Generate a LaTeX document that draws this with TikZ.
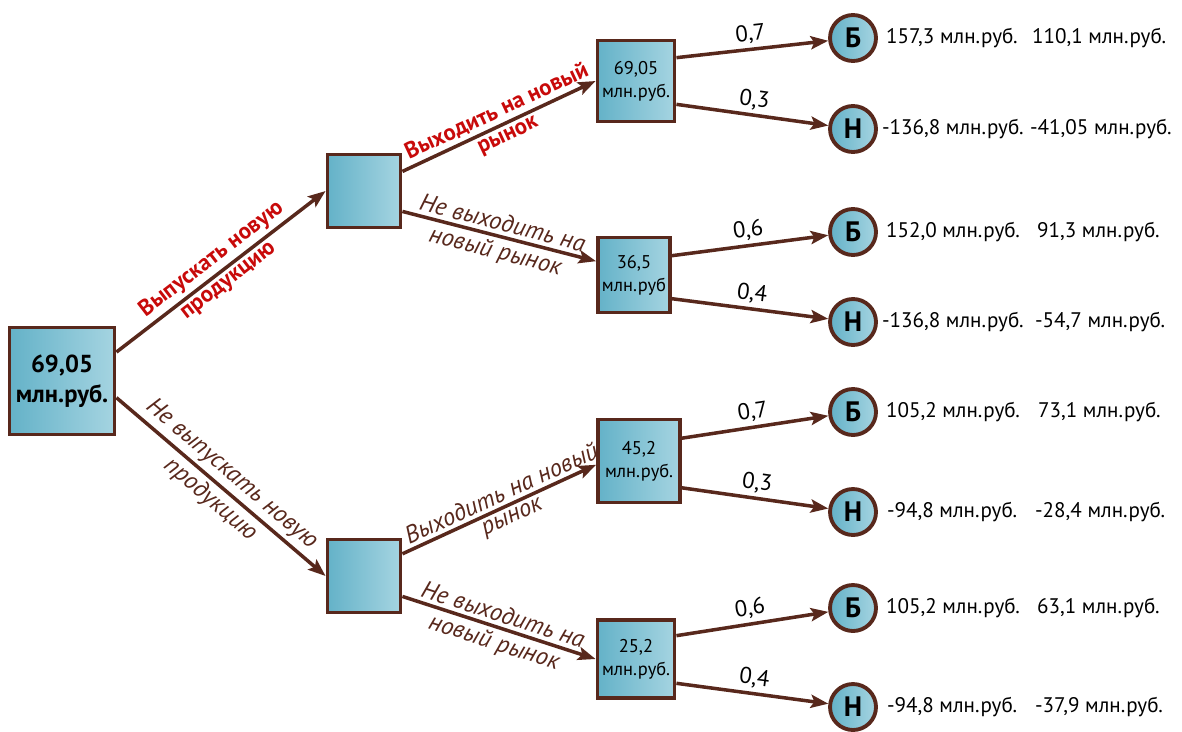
\documentclass[tikz,border=0pt]{standalone}
\usepackage{fontspec}
\setmainfont{PT Sans}
\usetikzlibrary{positioning, arrows.meta}

\definecolor{boxdark}{RGB}{100,178,200}
\definecolor{boxlight}{RGB}{165,212,225}
\definecolor{brownline}{RGB}{88,40,28}
\definecolor{choicered}{RGB}{200,10,10}

\tikzset{
  boxbase/.style={draw=brownline, line width=2.2pt, left color=boxdark, right color=boxlight, align=center, inner sep=1pt},
  rootbox/.style={boxbase, minimum width=2.1cm, minimum height=2.14cm, font=\fontsize{14}{17}\selectfont\bfseries},
  decbox/.style={boxbase, minimum width=1.46cm, minimum height=1.46cm},
  chancebox/.style={boxbase, font=\fontsize{10.5}{13}\selectfont},
  outcome/.style={circle, draw=brownline, line width=2.2pt, left color=boxdark, right color=boxlight, minimum size=0.92cm, inner sep=0pt, font=\fontsize{16}{16}\selectfont\bfseries},
  value/.style={inner sep=1pt, anchor=west, font=\fontsize{12}{14}\selectfont},
  edge/.style={brownline, line width=2pt, -{Stealth[length=10pt, width=7.5pt, inset=2pt]}},
  redlabel/.style={sloped, color=choicered, inner sep=2pt, font=\fontsize{13}{15}\selectfont\bfseries},
  brownlabel/.style={sloped, color=brownline, inner sep=2pt, font=\fontsize{14}{15}\selectfont\itshape},
  problabel/.style={sloped, midway, above, color=black, inner sep=2pt, font=\fontsize{13}{14}\selectfont}
}

\begin{document}
\begin{tikzpicture}[x=0.02cm, y=-0.02cm]
    \useasboundingbox (0,0) rectangle (1182,731);

    % boxes
    \node[rootbox] (root) at (62,381) {69,05\\млн.руб.};
    \node[decbox] (up) at (364,191) {};
    \node[decbox] (down) at (364,576) {};
    \node[chancebox, minimum width=1.54cm, minimum height=1.62cm] (cA) at (636,81) {69,05\\млн.руб.};
    \node[chancebox, minimum width=1.44cm, minimum height=1.5cm] (cB) at (634,275) {36,5\\млн.руб};
    \node[chancebox, minimum width=1.64cm, minimum height=1.66cm] (cC) at (639,461) {45,2\\млн.руб.};
    \node[chancebox, minimum width=1.54cm, minimum height=1.56cm] (cD) at (636,659) {25,2\\млн.руб.};

    % outcomes
    \node[outcome] (o1) at (853,38) {Б};
    \node[outcome] (o2) at (853,129) {Н};
    \node[outcome] (o3) at (853,232) {Б};
    \node[outcome] (o4) at (853,322) {Н};
    \node[outcome] (o5) at (853,412) {Б};
    \node[outcome] (o6) at (853,512) {Н};
    \node[outcome] (o7) at (853,608) {Б};
    \node[outcome] (o8) at (853,707) {Н};

    % values
    \node[value, right=0.12cm of o1] (v1) {157,3 млн.руб.};
    \node[value, right=0.04cm of o2] (v2) {-136,8 млн.руб.};
    \node[value, right=0.12cm of o3] (v3) {152,0 млн.руб.};
    \node[value, right=0.04cm of o4] (v4) {-136,8 млн.руб.};
    \node[value, right=0.12cm of o5] (v5) {105,2 млн.руб.};
    \node[value, right=0.14cm of o6] (v6) {-94,8 млн.руб.};
    \node[value, right=0.12cm of o7] (v7) {105,2 млн.руб.};
    \node[value, right=0.14cm of o8] (v8) {-94,8 млн.руб.};
    \node[value] (w1) at (1030,38) {110,1 млн.руб.};
    \node[value] (w2) at (1028,129) {-41,05 млн.руб.};
    \node[value] (w3) at (1035,232) {91,3 млн.руб.};
    \node[value] (w4) at (1033,322) {-54,7 млн.руб.};
    \node[value] (w5) at (1036,412) {73,1 млн.руб.};
    \node[value] (w6) at (1033,512) {-28,4 млн.руб.};
    \node[value] (w7) at (1035,608) {63,1 млн.руб.};
    \node[value] (w8) at (1033,707) {-37,9 млн.руб.};

    % decisions
    \draw[edge] (root.28) -- (up.west)
        node[redlabel, pos=0.5, above] {Выпускать новую}
        node[redlabel, pos=0.5, below] {продукцию};
    \draw[edge] (root.-17) -- (down.west)
        node[brownlabel, pos=0.5, above] {Не выпускать новую}
        node[brownlabel, pos=0.5, below] {продукцию};
    \draw[edge] (up.27) -- (cA.west)
        node[redlabel, pos=0.52, above] {Выходить на новый}
        node[redlabel, pos=0.52, below] {рынок};
    \draw[edge] (up.-28) -- (cB.160)
        node[brownlabel, pos=0.5, above] {Не выходить на}
        node[brownlabel, pos=0.5, below] {новый рынок};
    \draw[edge] (down.30) -- (cC.185)
        node[brownlabel, pos=0.54, above] {Выходить на новый}
        node[brownlabel, pos=0.54, below] {рынок};
    \draw[edge] (down.-28) -- (cD.west)
        node[brownlabel, pos=0.5, above] {Не выходить на}
        node[brownlabel, pos=0.5, below] {новый рынок};

    % chances
    \draw[edge] (cA.30) -- (o1) node[problabel] {0,7};
    \draw[edge] (cA.-30) -- (o2) node[problabel] {0,3};
    \draw[edge] (cB.27) -- (o3) node[problabel] {0,6};
    \draw[edge] (cB.-32) -- (o4) node[problabel] {0,4};
    \draw[edge] (cC.28) -- (o5) node[problabel] {0,7};
    \draw[edge] (cC.-32) -- (o6) node[problabel] {0,3};
    \draw[edge] (cD.30) -- (o7) node[problabel] {0,6};
    \draw[edge] (cD.-31) -- (o8) node[problabel] {0,4};
\end{tikzpicture}
\end{document}
